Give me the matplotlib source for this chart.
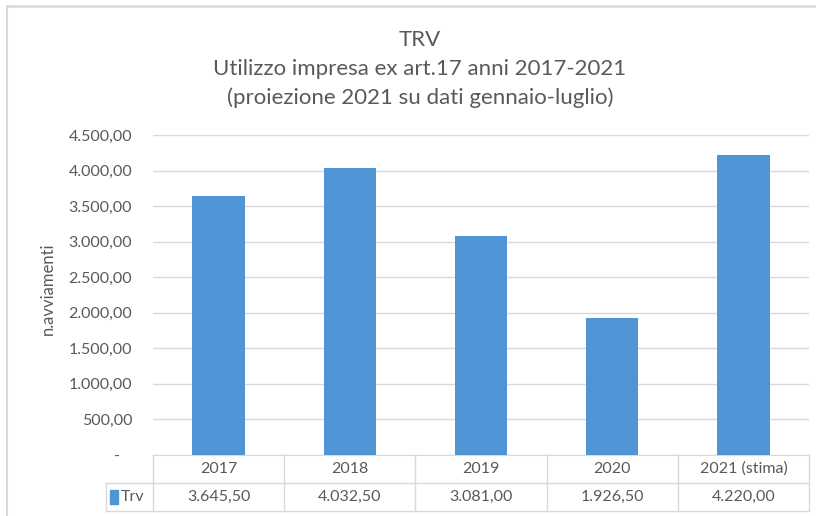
import numpy as np
import matplotlib.pyplot as plt
from matplotlib.lines import Line2D
from matplotlib.patches import Rectangle
from matplotlib.ticker import FuncFormatter, MultipleLocator

plt.rcParams['font.family'] = ['Lato', 'DejaVu Sans']

# dati
anni = ['2017', '2018', '2019', '2020', '2021 (stima)']
trv = [3645.50, 4032.50, 3081.00, 1926.50, 4220.00]
serie = 'Trv'
titolo = ['TRV',
          'Utilizzo impresa ex art.17 anni 2017-2021',
          '(proiezione 2021 su dati gennaio-luglio)']

blu = '#4F94D4'
grigio = '#D9D9D9'
testo = '#595959'


def formato_it(v, pos=None):
    # 3645.5 -> 3.645,50 ; lo zero come trattino (formato contabile)
    if v == 0:
        return '-   '
    s = f'{v:,.2f}'
    return s.replace(',', 'X').replace('.', ',').replace('X', '.')


W, H = 816, 516
fig = plt.figure(figsize=(W / 100, H / 100), dpi=100)

# cornice del grafico (solo bordo sinistro e superiore visibili)
fig.add_artist(Line2D([7 / W, 7 / W], [0, 1 - 6 / H], color=grigio, lw=1.5))
fig.add_artist(Line2D([7 / W, 1], [1 - 6 / H, 1 - 6 / H], color=grigio, lw=1.8))

left, right, top, bottom = 153, 809, 135, 455
ax = fig.add_axes([left / W, 1 - bottom / H, (right - left) / W, (bottom - top) / H])

x = np.arange(len(anni))
ax.bar(x, trv, width=0.4, color=blu, zorder=3)
ax.set_xlim(-0.5, len(anni) - 0.5)
ax.set_ylim(0, 4500)
ax.yaxis.set_major_locator(MultipleLocator(500))
ax.yaxis.set_major_formatter(FuncFormatter(formato_it))
ax.grid(axis='y', color=grigio, lw=1, zorder=0)
ax.tick_params(axis='y', length=0, pad=15, labelsize=11.5, labelcolor=testo)
ax.set_xticks([])
for sp in ['top', 'right', 'left']:
    ax.spines[sp].set_visible(False)
ax.spines['bottom'].set_color(grigio)

ax.set_ylabel('n.avviamenti', fontsize=12, color=testo)
ax.yaxis.set_label_coords(-0.148, 0.52)
for k, riga in enumerate(titolo):
    fig.text(420 / W, 1 - (40 + 29 * k) / H, riga, ha='center', va='center',
             fontsize=16, color=testo)

# tabella dati sotto l'asse
tr = ax.get_xaxis_transform()
rh = 28 / (bottom - top)          # altezza riga in frazione di asse
px = 1 / (right - left) * len(anni)  # un pixel in unita' dati
xl = -0.5 - 47 * px               # bordo sinistro cella legenda

kw = dict(transform=tr, color=grigio, lw=1, clip_on=False)
ax.add_line(Line2D([-0.5, len(anni) - 0.5], [-rh, -rh], **kw))
ax.add_line(Line2D([xl, -0.5], [-rh, -rh], **kw))
ax.add_line(Line2D([xl, len(anni) - 0.5], [-2 * rh, -2 * rh], **kw))
ax.add_line(Line2D([xl, xl], [-rh, -2 * rh], **kw))
for i in range(len(anni) + 1):
    ax.add_line(Line2D([i - 0.5, i - 0.5], [0, -2 * rh], **kw))

for i, (a, v) in enumerate(zip(anni, trv)):
    ax.text(i, -0.5 * rh, a, transform=tr, ha='center', va='center',
            fontsize=11.5, color=testo)
    ax.text(i, -1.5 * rh, formato_it(v), transform=tr, ha='center', va='center',
            fontsize=11.5, color=testo)

ax.add_patch(Rectangle((xl + 4 * px, -1.5 * rh - 0.022), 8 * px, 0.044,
                       transform=tr, color=blu, clip_on=False))
ax.text(xl + 15 * px, -1.5 * rh, serie, transform=tr, ha='left', va='center',
        fontsize=11.5, color=testo)

fig.savefig('out.png', dpi=100)
